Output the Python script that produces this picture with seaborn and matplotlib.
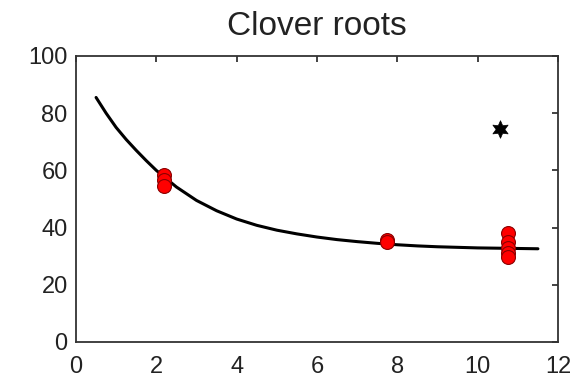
import matplotlib
matplotlib.use("Agg")
import matplotlib.pyplot as plt
import seaborn as sns

# Observed data (red circles)
obs_x = [2.2, 2.2, 2.2, 7.75, 7.75, 10.75, 10.75, 10.75, 10.75, 10.75]
obs_y = [58.5, 56.5, 54.5, 35.5, 34.8, 38.0, 35.0, 33.0, 31.0, 29.8]

# Outlier (black star)
out_x = [10.55]
out_y = [74.5]

# Fitted curve
curve_x = [0.5, 0.75, 1.0, 1.25, 1.5, 1.75, 2.0, 2.5, 3.0, 3.5, 4.0, 4.5, 5.0, 5.5,
           6.0, 6.5, 7.0, 7.5, 8.0, 8.5, 9.0, 9.5, 10.0, 10.5, 11.0, 11.5]
curve_y = [85.5, 80.0, 75.0, 70.8, 67.0, 63.4, 60.0, 54.2, 49.5, 45.9, 43.0, 40.8, 39.1, 37.8,
           36.7, 35.8, 35.1, 34.5, 34.0, 33.6, 33.3, 33.1, 32.9, 32.8, 32.7, 32.6]

sns.set_style("white")
plt.rcParams['font.family'] = ['Liberation Sans', 'DejaVu Sans']

W, H = 577, 377
fig = plt.figure(figsize=(W / 100, H / 100), dpi=100)
left, right, top, bottom = 76, 558, 56, 342
ax = fig.add_axes([left / W, 1 - bottom / H, (right - left) / W, (bottom - top) / H])

sns.lineplot(x=curve_x, y=curve_y, ax=ax, color='black', linewidth=2.2, sort=False, zorder=2)
sns.scatterplot(x=obs_x, y=obs_y, ax=ax, color='red', edgecolor='#8b0000', linewidth=0.8,
                s=100, zorder=3)
sns.scatterplot(x=out_x, y=out_y, ax=ax, color='black', marker=(6, 1, 0), s=160,
                edgecolor='black', linewidth=0.5, zorder=3)

ax.set_xlim(0, 12)
ax.set_ylim(0, 100)
ax.set_xticks([0, 2, 4, 6, 8, 10, 12])
ax.set_yticks([0, 20, 40, 60, 80, 100])
ax.tick_params(direction='in', length=4, width=1.2, top=True, right=True,
               labelsize=17, colors='#222222')
ax.tick_params(axis='x', pad=10)
ax.tick_params(axis='y', pad=6)
for sp in ax.spines.values():
    sp.set_visible(True)
    sp.set_color('#333333')
    sp.set_linewidth(1.3)
ax.set_title('Clover roots', fontsize=24, pad=15, color='#222222')

fig.savefig('out.png', dpi=100)
